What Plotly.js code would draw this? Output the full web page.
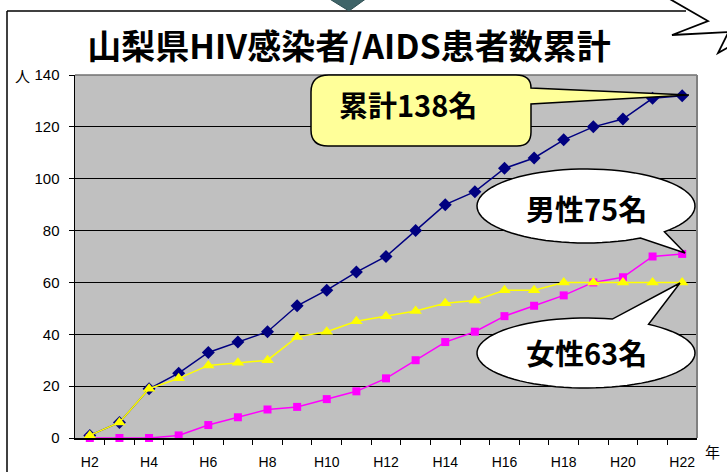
<!DOCTYPE html>
<html>
<head>
<meta charset="utf-8">
<script src="https://cdn.plot.ly/plotly-3.0.1.min.js"></script>
<style>
html,body{margin:0;padding:0;background:#fff;}
#chart{width:727px;height:472px;}
</style>
</head>
<body>
<div id="chart"></div>
<script>
// ---- data ----
const years = ['H2','H3','H4','H5','H6','H7','H8','H9','H10','H11','H12','H13','H14','H15','H16','H17','H18','H19','H20','H21','H22'];
const total  = [1, 6, 19, 25, 33, 37, 41, 51, 57, 64, 70, 80, 90, 95, 104, 108, 115, 120, 123, 131, 132];
const male   = [0, 0, 0, 1, 5, 8, 11, 12, 15, 18, 23, 30, 37, 41, 47, 51, 55, 60, 62, 70, 71];
const female = [1, 6, 19, 23, 28, 29, 30, 39, 41, 45, 47, 49, 52, 53, 57, 57, 60, 60, 60, 60, 60];
const yTicks = [0, 20, 40, 60, 80, 100, 120, 140];
const titleText = '山梨県HIV感染者/AIDS患者数累計';
const calloutTotal = '累計138名';
const calloutMale = '男性75名';
const calloutFemale = '女性63名';

// ---- layout geometry (pixels) ----
const W = 727, H = 472;
const L = 75, R = 697, T = 75, B = 438;
const px = x => (x - L) / (R - L);
const py = y => (B - y) / (B - T);
const P = (x, y) => px(x).toFixed(5) + ',' + py(y).toFixed(5);

const xIdx = years.map((_, i) => i);
const labelIdx = xIdx.filter(i => i % 2 === 0);
const boundaries = xIdx.slice(0, -1).map(i => i + 0.5);

function ellipseCallout(cx, cy, rx, ry, a0, a1, tip) {
  let d = '';
  const n = 80;
  for (let k = 0; k <= n; k++) {
    const a = (a0 + (a1 - a0) * k / n) * Math.PI / 180;
    const x = cx + rx * Math.cos(a), y = cy + ry * Math.sin(a);
    d += (k === 0 ? 'M' : 'L') + P(x, y);
  }
  d += 'L' + P(tip[0], tip[1]) + 'Z';
  return d;
}

const rectCallout =
  'M' + P(329, 75) + 'L' + P(516, 75) + 'Q' + P(531, 75) + ' ' + P(531, 88) +
  'L' + P(689, 95) + 'L' + P(531, 104) + 'L' + P(531, 132) +
  'Q' + P(531, 146) + ' ' + P(517, 146) + 'L' + P(328, 146) +
  'Q' + P(311, 146) + ' ' + P(311, 130) + 'L' + P(311, 92) +
  'Q' + P(311, 75) + ' ' + P(329, 75) + 'Z';

const shapes = [
  {type:'line', xref:'paper', yref:'paper', x0:0, x1:1, y0:1, y1:1, line:{color:'#707070', width:1.5}, layer:'above'},
  {type:'line', xref:'paper', yref:'paper', x0:1, x1:1, y0:0, y1:1, line:{color:'#808080', width:2}, layer:'above'},
  {type:'line', xref:'paper', yref:'paper', x0:px(7), x1:px(686), y0:py(11), y1:py(11), line:{color:'#000', width:1.5}},
  {type:'line', xref:'paper', yref:'paper', x0:px(7), x1:px(7), y0:py(11), y1:py(475), line:{color:'#000', width:1.5}},
  {type:'path', xref:'paper', yref:'paper',
   path:'M' + P(668, -2) + 'L' + P(708, 21) + 'L' + P(672, 35) + 'L' + P(728, 32),
   line:{color:'#000', width:1.8}},
  {type:'path', xref:'paper', yref:'paper',
   path:'M' + P(728, 33) + 'L' + P(718, 53) + 'L' + P(729, 47),
   line:{color:'#000', width:1.8}},
  {type:'path', xref:'paper', yref:'paper',
   path:'M' + P(328, -2) + 'L' + P(367, -2) + 'L' + P(349, 11) + 'Z',
   fillcolor:'#3f6468', line:{color:'#2f4f52', width:1}},
  {type:'path', xref:'paper', yref:'paper', path: rectCallout,
   fillcolor:'#FFFF99', line:{color:'#000', width:1.5}, layer:'above'},
  {type:'path', xref:'paper', yref:'paper',
   path: ellipseCallout(586, 206, 109, 37, 60, 404, [685, 253]),
   fillcolor:'#FFFFFF', line:{color:'#000', width:1.5}, layer:'above'},
  {type:'path', xref:'paper', yref:'paper',
   path: ellipseCallout(586, 353, 109, 35, -55, 284, [680, 283]),
   fillcolor:'#FFFFFF', line:{color:'#000', width:1.5}, layer:'above'}
];

const cjk = '"Noto Sans CJK JP", "Noto Sans", sans-serif';
const sans = '"Liberation Sans", Arial, "Noto Sans CJK JP", sans-serif';

function note(x, y, text, size) {
  return {xref:'paper', yref:'paper', x:px(x), y:py(y), xanchor:'center', yanchor:'middle',
          text:text, showarrow:false, font:{family:cjk, size:size, color:'#000'}};
}

const annotations = [
  note(408, 104, '<b>' + calloutTotal + '</b>', 29),
  note(586, 208, '<b>' + calloutMale + '</b>', 29),
  note(586, 352, '<b>' + calloutFemale + '</b>', 29),
  note(22, 75, '人', 15),
  note(712, 451, '年', 15)
];

const traces = [
  {x:xIdx, y:total, type:'scatter', mode:'lines+markers', name:'累計', cliponaxis:false,
   line:{color:'#000080', width:1.5}, marker:{symbol:'diamond', size:10, color:'#000080'}},
  {x:xIdx, y:male, type:'scatter', mode:'lines+markers', name:'男性', cliponaxis:false,
   line:{color:'#FF00FF', width:1.5}, marker:{symbol:'square', size:8, color:'#FF00FF'}},
  {x:xIdx, y:female, type:'scatter', mode:'lines+markers', name:'女性', cliponaxis:false,
   line:{color:'#FFFF00', width:1.5}, marker:{symbol:'triangle-up', size:11, color:'#FFFF00'}}
];

const layout = {
  width: W, height: H,
  margin: {l: L, r: W - R, t: T, b: H - B, pad: 0},
  paper_bgcolor: '#FFFFFF',
  plot_bgcolor: '#C0C0C0',
  showlegend: false,
  title: {
    text: '<b>' + titleText + '</b>',
    font: {family: cjk, size: 34, color: '#000'},
    xref: 'container', yref: 'container',
    x: 349 / W, y: 1 - 47 / H, xanchor: 'center', yanchor: 'middle'
  },
  xaxis: {
    range: [-0.5, years.length - 0.5],
    tickmode: 'array',
    tickvals: labelIdx,
    ticktext: labelIdx.map(i => years[i]),
    ticks: '',
    ticklabelstandoff: 11,
    showgrid: false, zeroline: false,
    showline: true, linecolor: '#000', linewidth: 1.5,
    tickfont: {family: sans, size: 14, color: '#000'},
    minor: {tickmode: 'array', tickvals: boundaries, ticks: 'outside', ticklen: 5,
            tickcolor: '#000', tickwidth: 1, showgrid: false},
    fixedrange: true
  },
  yaxis: {
    range: [0, 140],
    tickmode: 'array',
    tickvals: yTicks,
    ticks: 'outside', ticklen: 5, tickcolor: '#000', tickwidth: 1,
    ticklabelstandoff: 6,
    showgrid: true, gridcolor: '#000', gridwidth: 1,
    zeroline: false,
    showline: true, linecolor: '#000', linewidth: 1.5,
    tickfont: {family: sans, size: 15, color: '#000'},
    fixedrange: true
  },
  shapes: shapes,
  annotations: annotations
};

Plotly.newPlot('chart', traces, layout, {staticPlot: true, displayModeBar: false});
</script>
</body>
</html>
